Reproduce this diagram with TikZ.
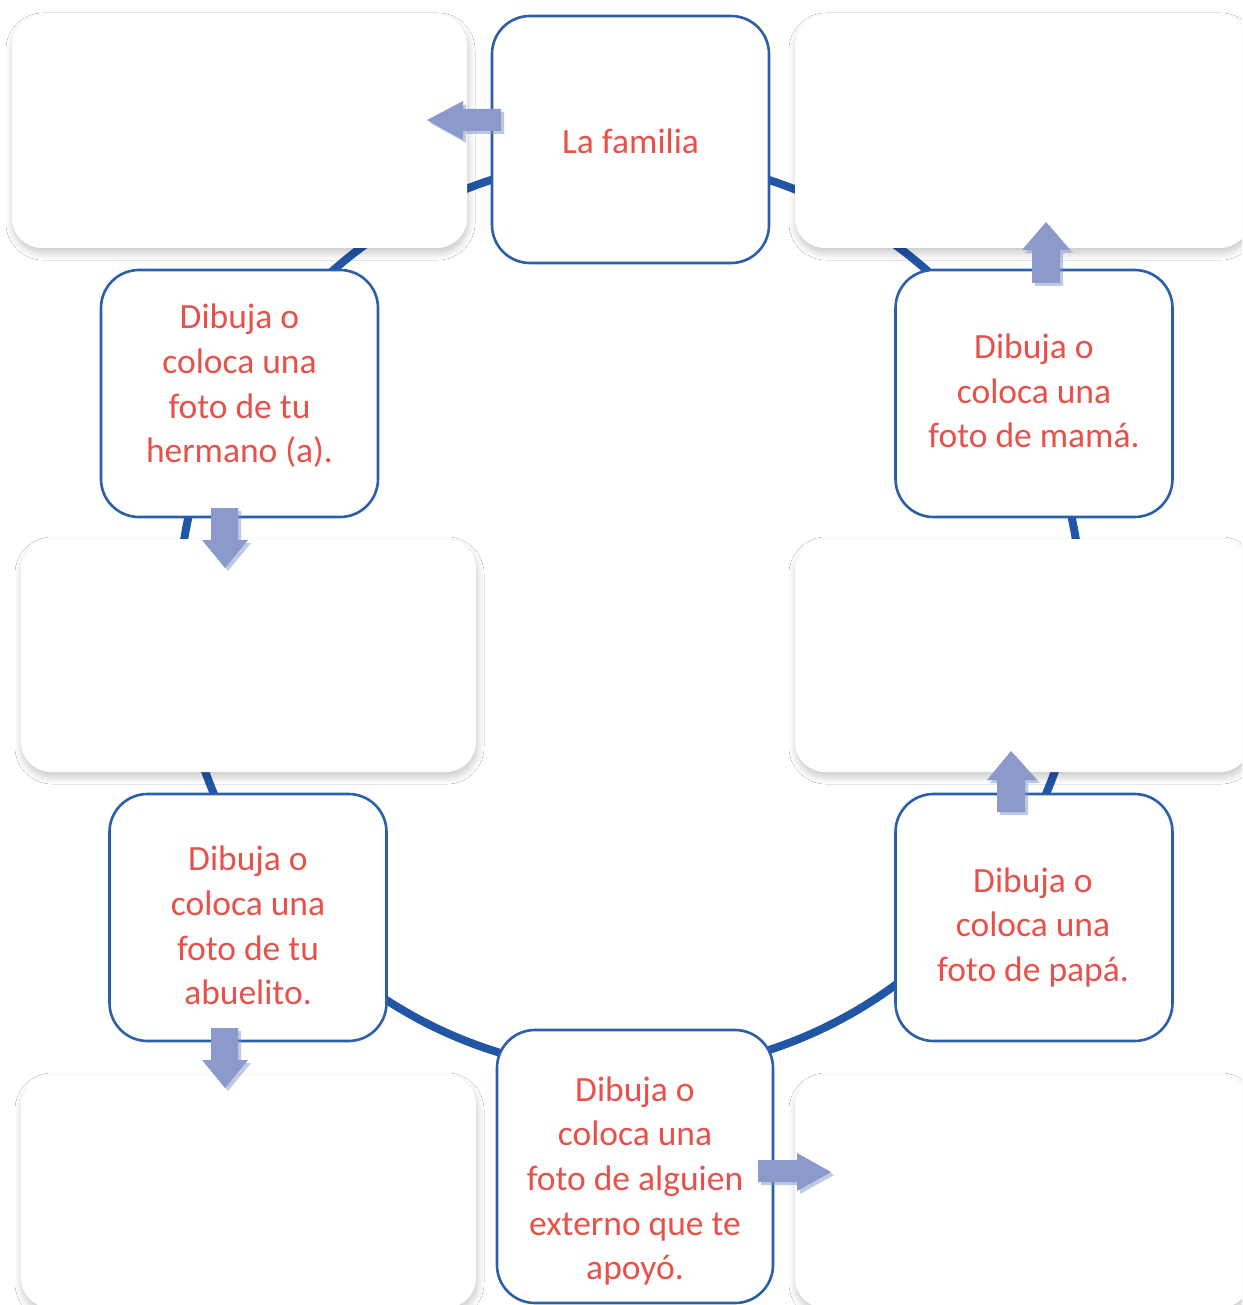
\documentclass[tikz,border=0pt]{standalone}
\usepackage{fontspec}
\setmainfont{Carlito}
\usetikzlibrary{shadows.blur,shadows}
\definecolor{ringblue}{HTML}{2156A5}
\definecolor{boxblue}{HTML}{2B5EAB}
\definecolor{txtred}{HTML}{E8514A}
\definecolor{arrowfill}{HTML}{8C9ACB}
\definecolor{arrowshadow}{HTML}{7A96CC}
\tikzset{
  blankbox/.style={rectangle, rounded corners=30pt, fill=white, minimum width=455pt, minimum height=233pt, inner sep=0pt,
    blur shadow={shadow xshift=1pt, shadow yshift=-5pt, shadow blur radius=7pt, shadow blur steps=12, shadow opacity=22}},
  textbox/.style={rectangle, rounded corners=38pt, fill=white, draw=boxblue, line width=2.6pt, minimum width=277pt, minimum height=247pt, inner sep=0pt},
  boxtext/.style={text=txtred, align=center, font=\fontsize{35.5}{44.7}\selectfont, inner sep=0pt},
  blockarrow/.style={fill=arrowfill, drop shadow={shadow xshift=3pt, shadow yshift=-3pt, fill=arrowshadow, opacity=0.5}},
  ringline/.style={draw=ringblue, line width=8pt},
}
\begin{document}
\begin{tikzpicture}[x=1pt,y=-1pt]
\path[use as bounding box] (0,0) rectangle (1242,1305);
\clip (0,0) rectangle (1242,1305);
\fill[white] (0,0) rectangle (1242,1305);
% ring
\draw[ringline] (630,615) ellipse [x radius=452pt, y radius=457pt];
% blank boxes
\node[blankbox] (bTL) at (239.5,131.5) {};
\node[blankbox] (bTR) at (1022.5,131.5) {};
\node[blankbox] (bML) at (248.5,655.5) {};
\node[blankbox] (bMR) at (1022.5,655.5) {};
\node[blankbox] (bBL) at (248.5,1191.5) {};
\node[blankbox] (bBR) at (1022.5,1191.5) {};
% text boxes
\node[textbox] (fam) at (630.5,139.5) {};
\node[textbox] (herm) at (239.5,393.5) {};
\node[textbox] (mama) at (1034,393.5) {};
\node[textbox] (abue) at (248,917.5) {};
\node[textbox] (papa) at (1034,917.5) {};
\node[textbox, minimum width=276pt, minimum height=273pt] (alg) at (635,1166.5) {};
% texts
\node[boxtext] (tfam) at (630.5,141) {La familia};
\node[boxtext] (therm) at (239.5,386) {Dibuja o\\coloca una\\foto de tu\\hermano (a).};
\node[boxtext] (tmama) at (1034,391) {Dibuja o\\coloca una\\foto de mamá.};
\node[boxtext] (tabue) at (248,925.5) {Dibuja o\\coloca una\\foto de tu\\abuelito.};
\node[boxtext] (tpapa) at (1033,927.5) {Dibuja o\\coloca una\\foto de papá.};
\node[boxtext] (talg) at (635,1181) {Dibuja o\\coloca una\\foto de alguien\\externo que te\\apoyó.};
% block arrows
\fill[blockarrow] (501,109) -- (463,109) -- (463,101) -- (427,120) -- (463,140) -- (463,131) -- (501,131) -- cycle;
\fill[blockarrow] (1032,283) -- (1032,250) -- (1022,250) -- (1046,222) -- (1070,250) -- (1060,250) -- (1060,283) -- cycle;
\fill[blockarrow] (211,508) -- (211,540) -- (202,540) -- (225,568) -- (248,540) -- (238,540) -- (238,508) -- cycle;
\fill[blockarrow] (997,812) -- (997,780) -- (987,780) -- (1011,751) -- (1037,780) -- (1025,780) -- (1025,812) -- cycle;
\fill[blockarrow] (211,1028) -- (211,1060) -- (202,1060) -- (225,1088) -- (248,1060) -- (238,1060) -- (238,1028) -- cycle;
\fill[blockarrow] (758,1160) -- (797,1160) -- (797,1153) -- (831,1172) -- (797,1191) -- (797,1182) -- (758,1182) -- cycle;
\end{tikzpicture}
\end{document}
